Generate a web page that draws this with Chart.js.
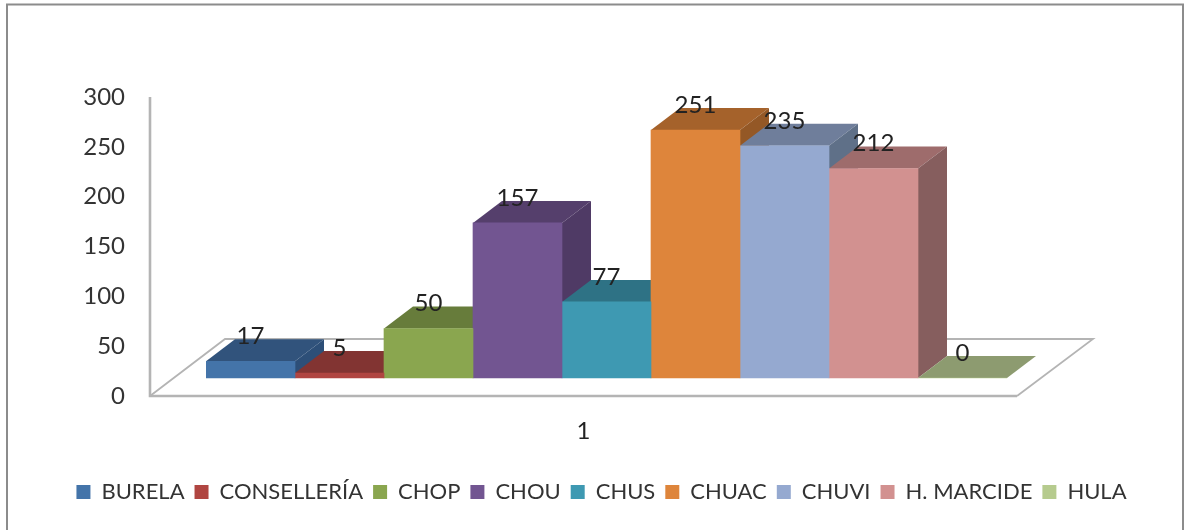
<!DOCTYPE html>
<html>
<head>
<meta charset="utf-8">
<style>
html,body{margin:0;padding:0;background:#fff;overflow:hidden}
canvas{display:block;filter:blur(0.65px)}
</style>
<script src="https://cdn.jsdelivr.net/npm/chart.js@4"></script>
</head>
<body>
<canvas id="c" width="1187" height="530"></canvas>
<script>
const categories = ['1'];
const seriesNames = ['BURELA','CONSELLERÍA','CHOP','CHOU','CHUS','CHUAC','CHUVI','H. MARCIDE','HULA'];
const seriesValues = [17,5,50,157,77,251,235,212,0];
const frontColors = ['#4474A9','#B04541','#8AA64F','#725591','#3E99B2','#DE853B','#95A9D0','#D29190','#B6CB8E'];
const topColors   = ['#31537C','#823432','#677C3B','#553F6C','#2E7285','#A5622B','#6F7E9B','#9E6C6C','#8D9B70'];
const sideColors  = ['#2D4F78','#772F2D','#5E7136','#4F3A65','#2A687A','#945826','#5F7088','#865E5E','#7F8C65'];
const yTicks = {min:0,max:300,step:50};
const FONT = "Lato, 'Liberation Sans', Arial, sans-serif";
const DX = 29, DY = 22;

const scene = {
  id:'scene',
  beforeDraw(chart){
    const c = chart.ctx;
    c.save();
    c.strokeStyle = '#8c8c8c'; c.lineWidth = 2;
    c.beginPath(); c.moveTo(7,531); c.lineTo(7,4.5); c.lineTo(1183,4.5); c.lineTo(1183,531); c.stroke();
    c.restore();
  },
  beforeDatasetsDraw(chart){
    const c = chart.ctx, y = chart.scales.y, left = chart.chartArea.left;
    const fy = y.getPixelForValue(0), ty = y.getPixelForValue(300);
    const ax = left - 56, rx = chart.chartArea.right + 10;
    c.save();
    c.lineJoin = 'miter';
    c.strokeStyle = '#b4b4b4'; c.lineWidth = 2.6;
    c.beginPath(); c.moveTo(ax, ty); c.lineTo(ax, fy); c.lineTo(rx, fy); c.stroke();
    c.lineWidth = 1.8;
    c.beginPath(); c.moveTo(ax, fy); c.lineTo(ax+75, fy-57); c.lineTo(rx+76, fy-57); c.lineTo(rx, fy); c.stroke();
    chart.data.datasets.forEach((d,i)=>{
      const b = chart.getDatasetMeta(i).data[0];
      const x0 = b.x - b.width/2, x1 = b.x + b.width/2, t = b.y, base = b.base;
      c.fillStyle = topColors[i];
      c.beginPath(); c.moveTo(x0,t); c.lineTo(x0+DX,t-DY); c.lineTo(x1+DX,t-DY); c.lineTo(x1,t); c.closePath(); c.fill();
      if (base - t > 0) {
        c.fillStyle = sideColors[i];
        c.beginPath(); c.moveTo(x1,t); c.lineTo(x1+DX,t-DY); c.lineTo(x1+DX,base-DY); c.lineTo(x1,base); c.closePath(); c.fill();
      }
    });
    c.restore();
  },
  afterDatasetsDraw(chart){
    const c = chart.ctx;
    c.save();
    c.font = '24px ' + FONT; c.fillStyle = '#222'; c.textAlign = 'center'; c.textBaseline = 'middle';
    chart.data.datasets.forEach((d,i)=>{
      const b = chart.getDatasetMeta(i).data[0];
      c.fillText(String(d.data[0]), b.x, b.y - 25);
    });
    c.restore();
  }
};

new Chart(document.getElementById('c'), {
  type:'bar',
  data:{
    labels:categories,
    datasets:seriesNames.map((n,i)=>({
      label:n, data:[seriesValues[i]], backgroundColor:frontColors[i], borderWidth:0,
      barPercentage:1, categoryPercentage:1, yAxisID:'y2', xAxisID:'x'
    }))
  },
  options:{
    responsive:false, animation:false, devicePixelRatio:1,
    layout:{padding:{left:16,right:0,top:97,bottom:17}},
    plugins:{
      title:{display:false}, tooltip:{enabled:false},
      legend:{
        position:'bottom',
        labels:{boxWidth:14,boxHeight:14,padding:10,color:'#333',font:{family:FONT,size:22}}
      }
    },
    scales:{
      x:{
        grid:{display:false}, border:{display:false},
        ticks:{color:'#222',font:{family:FONT,size:24},padding:13,labelOffset:-23,maxRotation:0},
        afterFit(s){ s.height = 75; }
      },
      y:{
        position:'left', min:yTicks.min, max:yTicks.max,
        grid:{display:false}, border:{display:false},
        ticks:{stepSize:yTicks.step,color:'#333',font:{family:FONT,size:24},padding:73},
        afterFit(s){ s.width = 190; }
      },
      y2:{
        position:'right', min:-18.2, max:284.4,
        grid:{display:false}, border:{display:false},
        ticks:{display:false},
        afterFit(s){ s.width = 180; }
      }
    }
  },
  plugins:[scene]
});
</script>
</body>
</html>
